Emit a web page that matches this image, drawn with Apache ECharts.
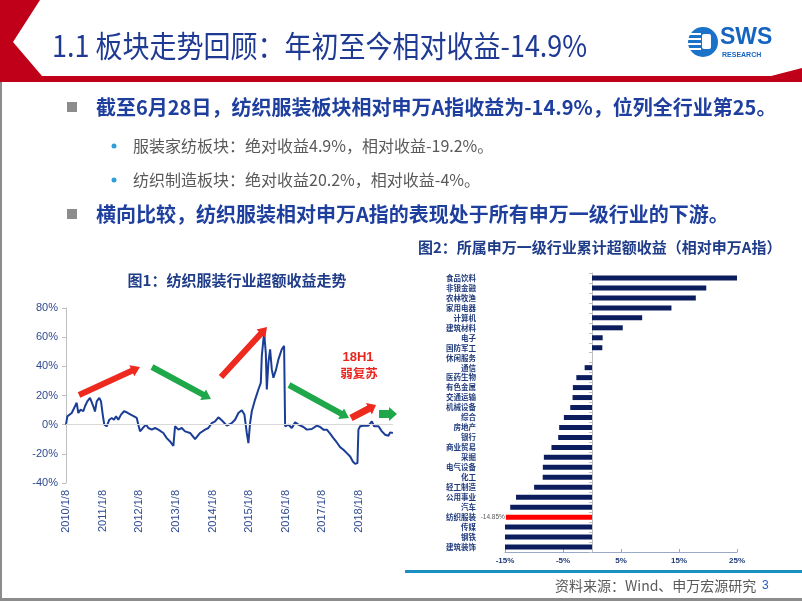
<!DOCTYPE html>
<html><head><meta charset="utf-8">
<script src="https://cdn.jsdelivr.net/npm/echarts@6/dist/echarts.min.js"></script>
<style>html,body{margin:0;padding:0;background:#fff}#c{width:802px;height:602px}</style>
</head><body><div id="c"></div>
<script>
// ---- Figure 1 data: years since 2010/1/8, excess return (%)
const lineT = [0,0.036,0.156,0.246,0.292,0.336,0.40,0.473,0.519,0.582,0.656,0.702,0.746,0.792,0.839,0.910,0.956,1.003,1.046,1.112,1.183,1.249,1.311,1.366,1.429,1.503,1.585,1.658,1.768,1.858,1.932,1.975,2.022,2.096,2.186,2.249,2.342,2.432,2.522,2.568,2.658,2.751,2.842,2.932,2.978,3.068,3.161,3.251,3.388,3.525,3.661,3.798,3.888,3.981,4.071,4.161,4.254,4.391,4.527,4.617,4.708,4.801,4.872,4.937,4.981,5.027,5.074,5.164,5.254,5.320,5.347,5.410,5.456,5.484,5.527,5.574,5.620,5.664,5.738,5.801,5.893,5.956,5.984,6.074,6.167,6.257,6.347,6.484,6.577,6.713,6.850,6.940,7.030,7.123,7.213,7.303,7.396,7.486,7.577,7.669,7.760,7.833,7.896,7.959,7.986,8.033,8.123,8.260,8.352,8.415,8.533,8.626,8.716,8.806,8.852,8.926];
const lineV = [0,5.7,8,12.6,15,8,10.3,9.2,12.6,16,18.4,19,12.6,9,16,18.4,16,6.9,0,-1.1,3.4,4.6,3.4,5.7,3.4,6.9,9.2,8.5,6.9,5.7,4.6,0,-4.6,-2.3,0,-2.3,-3.4,-2.3,-3.4,-2.3,-5.7,-9.2,-11.5,-14.5,-1.1,-3.4,-2.3,-4.6,-5.7,-9.9,-5.7,-3.4,-2.3,1.1,2.3,5,3,-0.7,1.1,3.4,8,9.9,6.9,-5.7,-12.6,1.1,9.2,17.2,24.1,28.7,47.1,63.2,49.4,24.1,42.5,51.7,37.9,32.2,37.9,44.8,51.7,54,-1.1,0,-2.3,1.6,0,-1.6,-3.4,-3,-0.7,-1.6,-3.4,-3.4,-6.2,-9.2,-12.2,-15.4,-17.2,-19.5,-21.8,-25.3,-26.9,-26.4,-3.4,-1.1,-0.7,-0.7,2.3,-1.1,-1.1,-4.6,-6.9,-7.6,-5.3,-5.7];
const xTickLabels = ['2010/1/8','2011/1/8','2012/1/8','2013/1/8','2014/1/8','2015/1/8','2016/1/8','2017/1/8','2018/1/8'];
const yTicks1 = {min:-40, max:80, step:20};

// ---- Figure 2 data
const industries = ['食品饮料','非银金融','农林牧渔','家用电器','计算机','建筑材料','电子','国防军工','休闲服务','通信','医药生物','有色金属','交通运输','机械设备','综合','房地产','银行','商业贸易','采掘','电气设备','化工','轻工制造','公用事业','汽车','纺织服装','传媒','钢铁','建筑装饰'];
const excess = [25.1,19.7,17.9,13.7,8.65,5.3,1.84,1.78,0,-1.27,-2.7,-3.3,-3.35,-3.75,-4.85,-5.66,-5.83,-6.99,-8.3,-8.48,-8.5,-9.98,-13.1,-14.1,-14.85,-15,-15,-15];
const highlightName = '纺织服装';
const xTicks2 = {min:-15, max:25, step:10};

const chart = echarts.init(document.getElementById('c'), null, {renderer:'canvas'});

function arrow(x1,y1,x2,y2,w,hw,hl,color){
  const dx=x2-x1, dy=y2-y1, L=Math.hypot(dx,dy);
  const ux=dx/L, uy=dy/L, nx=-uy, ny=ux;
  const bx=x2-ux*hl, by=y2-uy*hl;
  const p=[[x1+nx*w/2,y1+ny*w/2],[bx+nx*w/2,by+ny*w/2],[bx+nx*hw/2,by+ny*hw/2],[x2,y2],[bx-nx*hw/2,by-ny*hw/2],[bx-nx*w/2,by-ny*w/2],[x1-nx*w/2,y1-ny*w/2]];
  return {type:'polygon', z:100, shape:{points:p}, style:{fill:color}};
}
function txt(x,y,text,font,fill,align,extra){
  return Object.assign({type:'text', z:100, x:x, y:y, style:{text:text, font:font, fill:fill, align:align||'left', verticalAlign:'middle'}}, extra||{});
}
const RED='#ee2a1f', GREEN='#1fa84a';
const CJK='"Noto Sans CJK SC"';

const graphics = [
  // slide frame
  {type:'rect', z:1, shape:{x:0,y:0,width:2,height:600}, style:{fill:'#8c8c8c'}},
  {type:'rect', z:1, shape:{x:0,y:598,width:802,height:3}, style:{fill:'#8c8c8c'}},
  // header red shapes
  {type:'polygon', z:2, shape:{points:[[0,0],[40,0],[13,42],[42,76],[802,76],[802,82],[0,82]]}, style:{fill:'#c00018'}},
  {type:'polygon', z:2, shape:{points:[[748,82],[802,68],[802,82]]}, style:{fill:'#c00018'}},
  txt(52,46,'1.1 板块走势回顾：年初至今相对收益-14.9%','normal 30px '+CJK,'#1f3a93','left',{scaleX:0.9}),
  // logo
  {type:'circle', z:3, shape:{cx:703,cy:42,r:15}, style:{fill:'#1a73c8'}},
  {type:'rect', z:4, shape:{x:689,y:33,width:12,height:2}, style:{fill:'#fff'}},
  {type:'rect', z:4, shape:{x:688,y:38,width:13,height:2}, style:{fill:'#fff'}},
  {type:'rect', z:4, shape:{x:688,y:43,width:13,height:2}, style:{fill:'#fff'}},
  {type:'rect', z:4, shape:{x:689,y:48,width:12,height:2}, style:{fill:'#fff'}},
  {type:'rect', z:4, shape:{x:702,y:34,width:9,height:15,r:2}, style:{fill:'#fff'}},
  txt(720,38,'SWS','bold 23px Arial','#1565c0','left'),
  txt(722,55,'RESEARCH','bold 7px Arial','#1565c0','left'),
  // bullets
  {type:'rect', z:5, shape:{x:67,y:102,width:10,height:10}, style:{fill:'#8c8c8c'}},
  txt(96,107,'截至6月28日，纺织服装板块相对申万A指收益为-14.9%，位列全行业第25。','bold 20px '+CJK,'#1e3f9e','left'),
  {type:'circle', z:5, shape:{cx:114,cy:146,r:2.5}, style:{fill:'#2e9fd8'}},
  txt(133,146,'服装家纺板块：绝对收益4.9%，相对收益-19.2%。','normal 16px '+CJK,'#595959','left'),
  {type:'circle', z:5, shape:{cx:114,cy:180,r:2.5}, style:{fill:'#2e9fd8'}},
  txt(133,180,'纺织制造板块：绝对收益20.2%，相对收益-4%。','normal 16px '+CJK,'#595959','left'),
  {type:'rect', z:5, shape:{x:67,y:209,width:10,height:10}, style:{fill:'#8c8c8c'}},
  txt(96,214,'横向比较，纺织服装相对申万A指的表现处于所有申万一级行业的下游。','bold 20px '+CJK,'#1e3f9e','left'),
  // chart titles
  txt(418,247,'图2：所属申万一级行业累计超额收益（相对申万A指）','bold 15px '+CJK,'#1f3c88','left'),
  txt(237,280,'图1：纺织服装行业超额收益走势','bold 15px '+CJK,'#1f3c88','center'),
  // annotations
  arrow(79,395,140,367,6,12,9,RED),
  arrow(152,367,211,399,6,12,9,GREEN),
  arrow(221,377,267,327,6,12,9,RED),
  arrow(289,385,349,418,6,12,9,GREEN),
  arrow(351,418,376,405,7,13,8,RED),
  arrow(379,414,397,414,8,14,8,GREEN),
  txt(358,357,'18H1','bold 13px Arial','#e8261f','center'),
  txt(359,373,'弱复苏','bold 12.5px '+CJK,'#e8261f','center'),
  // footer
  {type:'rect', z:5, shape:{x:405,y:570,width:397,height:3}, style:{fill:'#1b8ec2'}},
  txt(555,586,'资料来源：Wind、申万宏源研究','normal 14px '+CJK,'#595959','left'),
  txt(762,586,'3','normal 12px Arial','#1f5fbf','left')
];

const barData = excess.map((v,i)=> industries[i]===highlightName
  ? {value:v, itemStyle:{color:'#ff0000'}, label:{show:true, position:'left', distance:1, formatter:'{c}%', fontSize:6.5, color:'#595959', fontFamily:'Arial'}}
  : v);

const option = {
  animation:false,
  backgroundColor:'#ffffff',
  grid:[
    {left:66, right:409, top:308, bottom:119, outerBoundsMode:'none', containLabel:false},
    {left:505, right:65, top:273, bottom:50, outerBoundsMode:'none', containLabel:false}
  ],
  xAxis:[
    {type:'value', gridIndex:0, min:0, max:8.93, interval:1,
     axisLine:{show:false}, axisTick:{show:false}, splitLine:{show:false},
     axisLabel:{rotate:90, margin:7, fontSize:11, fontFamily:'Arial', color:'#2e4a8f', showMaxLabel:false,
       formatter:(v)=> (Math.abs(v-Math.round(v))<1e-6 && xTickLabels[Math.round(v)]) ? xTickLabels[Math.round(v)] : ''}},
    {type:'value', gridIndex:1, min:xTicks2.min, max:xTicks2.max, interval:xTicks2.step,
     axisLine:{show:true, onZero:false, lineStyle:{color:'#9aa8c8', width:1}},
     axisTick:{show:true, inside:true, length:3, lineStyle:{color:'#9aa8c8'}},
     splitLine:{show:false},
     axisLabel:{formatter:'{value}%', fontSize:8, fontWeight:'bold', fontFamily:'Arial', color:'#1f3a7a', margin:5}}
  ],
  yAxis:[
    {type:'value', gridIndex:0, min:yTicks1.min, max:yTicks1.max, interval:yTicks1.step,
     axisLine:{show:true, onZero:false, lineStyle:{color:'#bfbfbf'}},
     axisTick:{show:true, length:4, lineStyle:{color:'#bfbfbf'}},
     splitLine:{show:false},
     axisLabel:{formatter:'{value}%', fontSize:11, fontFamily:'Arial', color:'#2e4a8f', margin:8}},
    {type:'category', gridIndex:1, data:industries, inverse:true,
     axisLine:{show:true, onZero:true, lineStyle:{color:'#bfbfbf'}},
     axisTick:{show:true, length:3, lineStyle:{color:'#bfbfbf'}},
     splitLine:{show:false},
     axisLabel:{interval:0, margin:29, fontSize:7.5, fontWeight:'bold', fontFamily:CJK, color:'#1f3a7a'}}
  ],
  series:[
    {type:'line', xAxisIndex:0, yAxisIndex:0, showSymbol:false, symbol:'none',
     data: lineT.map((t,i)=>[t,lineV[i]]),
     lineStyle:{color:'#1a3d96', width:2}, z:3,
     markLine:{silent:true, symbol:'none', label:{show:false}, lineStyle:{color:'#d9d9d9', width:1, type:'solid'}, data:[{yAxis:0}]}},
    {type:'bar', xAxisIndex:1, yAxisIndex:1, data:barData, barWidth:5,
     itemStyle:{color:'#0c1d5e'}}
  ],
  graphic: graphics
};
chart.setOption(option);
</script></body></html>
